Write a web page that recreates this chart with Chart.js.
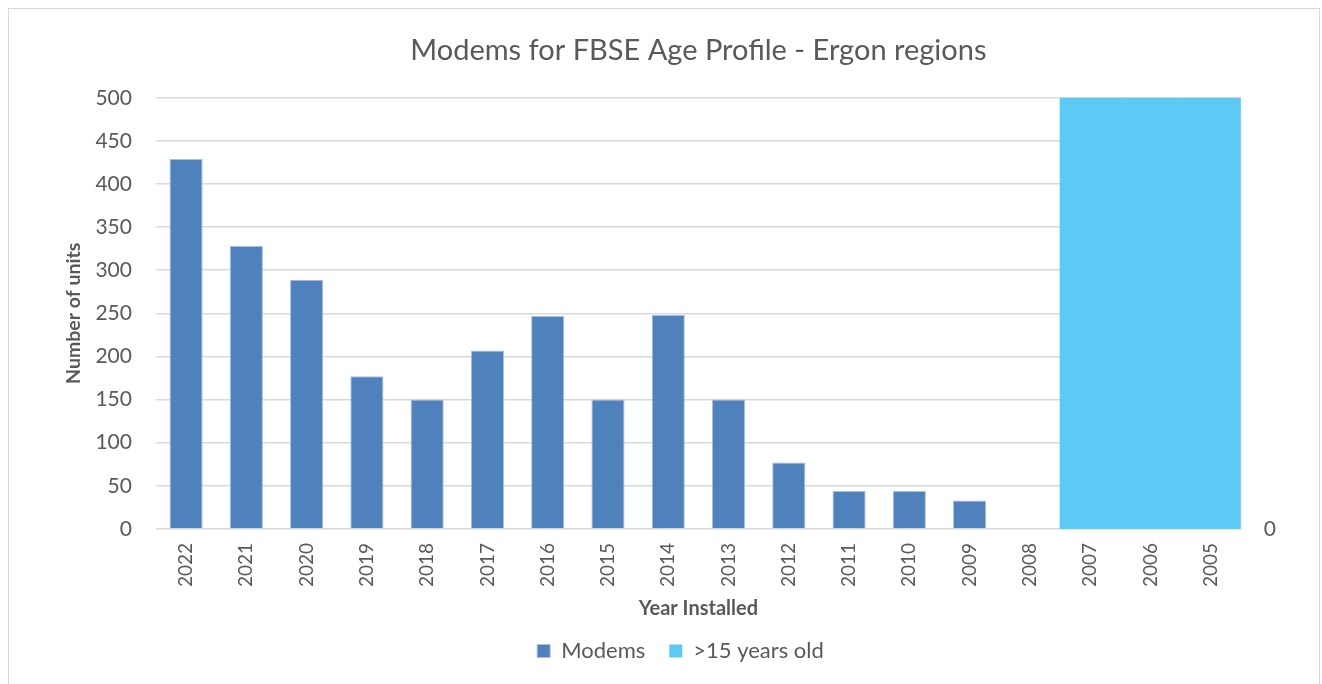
<!DOCTYPE html>
<html>
<head>
<meta charset="utf-8">
<script src="https://cdn.jsdelivr.net/npm/chart.js@4.4.0/dist/chart.umd.min.js"></script>
<style>
  body { margin:0; background:#fff; }
  #frame { position:absolute; left:8px; top:8px; width:1310px; height:700px; border:1px solid #d9d9d9; }
  #wrap { position:absolute; left:0; top:0; width:1322px; height:684px; }
</style>
</head>
<body>
<div id="frame"></div>
<div id="wrap"><canvas id="grafico" width="1322" height="684"></canvas></div>
<script>
// Dados
const anos = ['2022','2021','2020','2019','2018','2017','2016','2015','2014','2013','2012','2011','2010','2009','2008','2007','2006','2005'];
const modems = [429, 328, 289, 177, 150, 207, 247, 150, 248, 150, 77, 44, 44, 33, 0, null, null, null];
// faixa >15 anos (eixo secundário, 0..1)
const maisDe15 = [null, null, null, null, null, null, null, null, null, null, null, null, null, null, null, 1, 1, 1];
const yTicks = { min: 0, max: 500, step: 50 };

const cinza = '#595959';
const fonte = 'Lato, "Open Sans", sans-serif';

new Chart(document.getElementById('grafico').getContext('2d'), {
    type: 'bar',
    data: {
        labels: anos,
        datasets: [
            {
                label: 'Modems',
                data: modems,
                yAxisID: 'y',
                backgroundColor: '#4f81bd',
                borderColor: '#a7c0e0',
                borderWidth: 1,
                grouped: false,
                barPercentage: 0.55,
                categoryPercentage: 1,
                order: 1
            },
            {
                label: '>15 years old',
                data: maisDe15,
                yAxisID: 'y2',
                backgroundColor: '#5bcbf5',
                borderWidth: 0,
                grouped: false,
                barPercentage: 1,
                categoryPercentage: 1,
                order: 0
            }
        ]
    },
    options: {
        responsive: false,
        animation: false,
        layout: { padding: { top: 33, left: 62, right: 23, bottom: 12 } },
        scales: {
            x: {
                grid: { display: false, drawTicks: false },
                border: { display: false },
                ticks: {
                    color: cinza, font: { family: fonte, size: 19 },
                    minRotation: 90, maxRotation: 90, padding: 14
                },
                title: {
                    display: true, text: 'Year Installed', color: cinza,
                    font: { family: fonte, size: 20, weight: 'bold' },
                    padding: { top: -4, bottom: -5 }
                }
            },
            y: {
                min: yTicks.min, max: yTicks.max,
                grid: { color: '#d9d9d9', lineWidth: 1.5, drawTicks: false },
                border: { display: false },
                ticks: { stepSize: yTicks.step, color: cinza, font: { family: fonte, size: 21 }, padding: 24 },
                title: {
                    display: true, text: 'Number of units', color: cinza,
                    font: { family: fonte, size: 19.5, weight: 'bold' },
                    padding: { top: 0, bottom: -14 }
                }
            },
            y2: {
                position: 'right',
                min: 0, max: 1,
                grid: { display: false, drawTicks: false },
                border: { display: false },
                ticks: {
                    stepSize: 1, color: cinza, font: { family: fonte, size: 21 }, padding: 23,
                    callback: v => v === 0 ? '0' : ''
                }
            }
        },
        plugins: {
            title: {
                display: true, text: 'Modems for FBSE Age Profile - Ergon regions',
                color: cinza, font: { family: fonte, size: 29, weight: 'normal' },
                fullSize: false,
                padding: { top: 0, bottom: 30 }
            },
            legend: {
                position: 'bottom',
                labels: {
                    color: cinza, font: { family: fonte, size: 22 },
                    boxWidth: 13, boxHeight: 13, padding: 24,
                    sort: (a, b) => a.datasetIndex - b.datasetIndex
                }
            },
            tooltip: { enabled: false }
        }
    }
});
</script>
</body>
</html>
